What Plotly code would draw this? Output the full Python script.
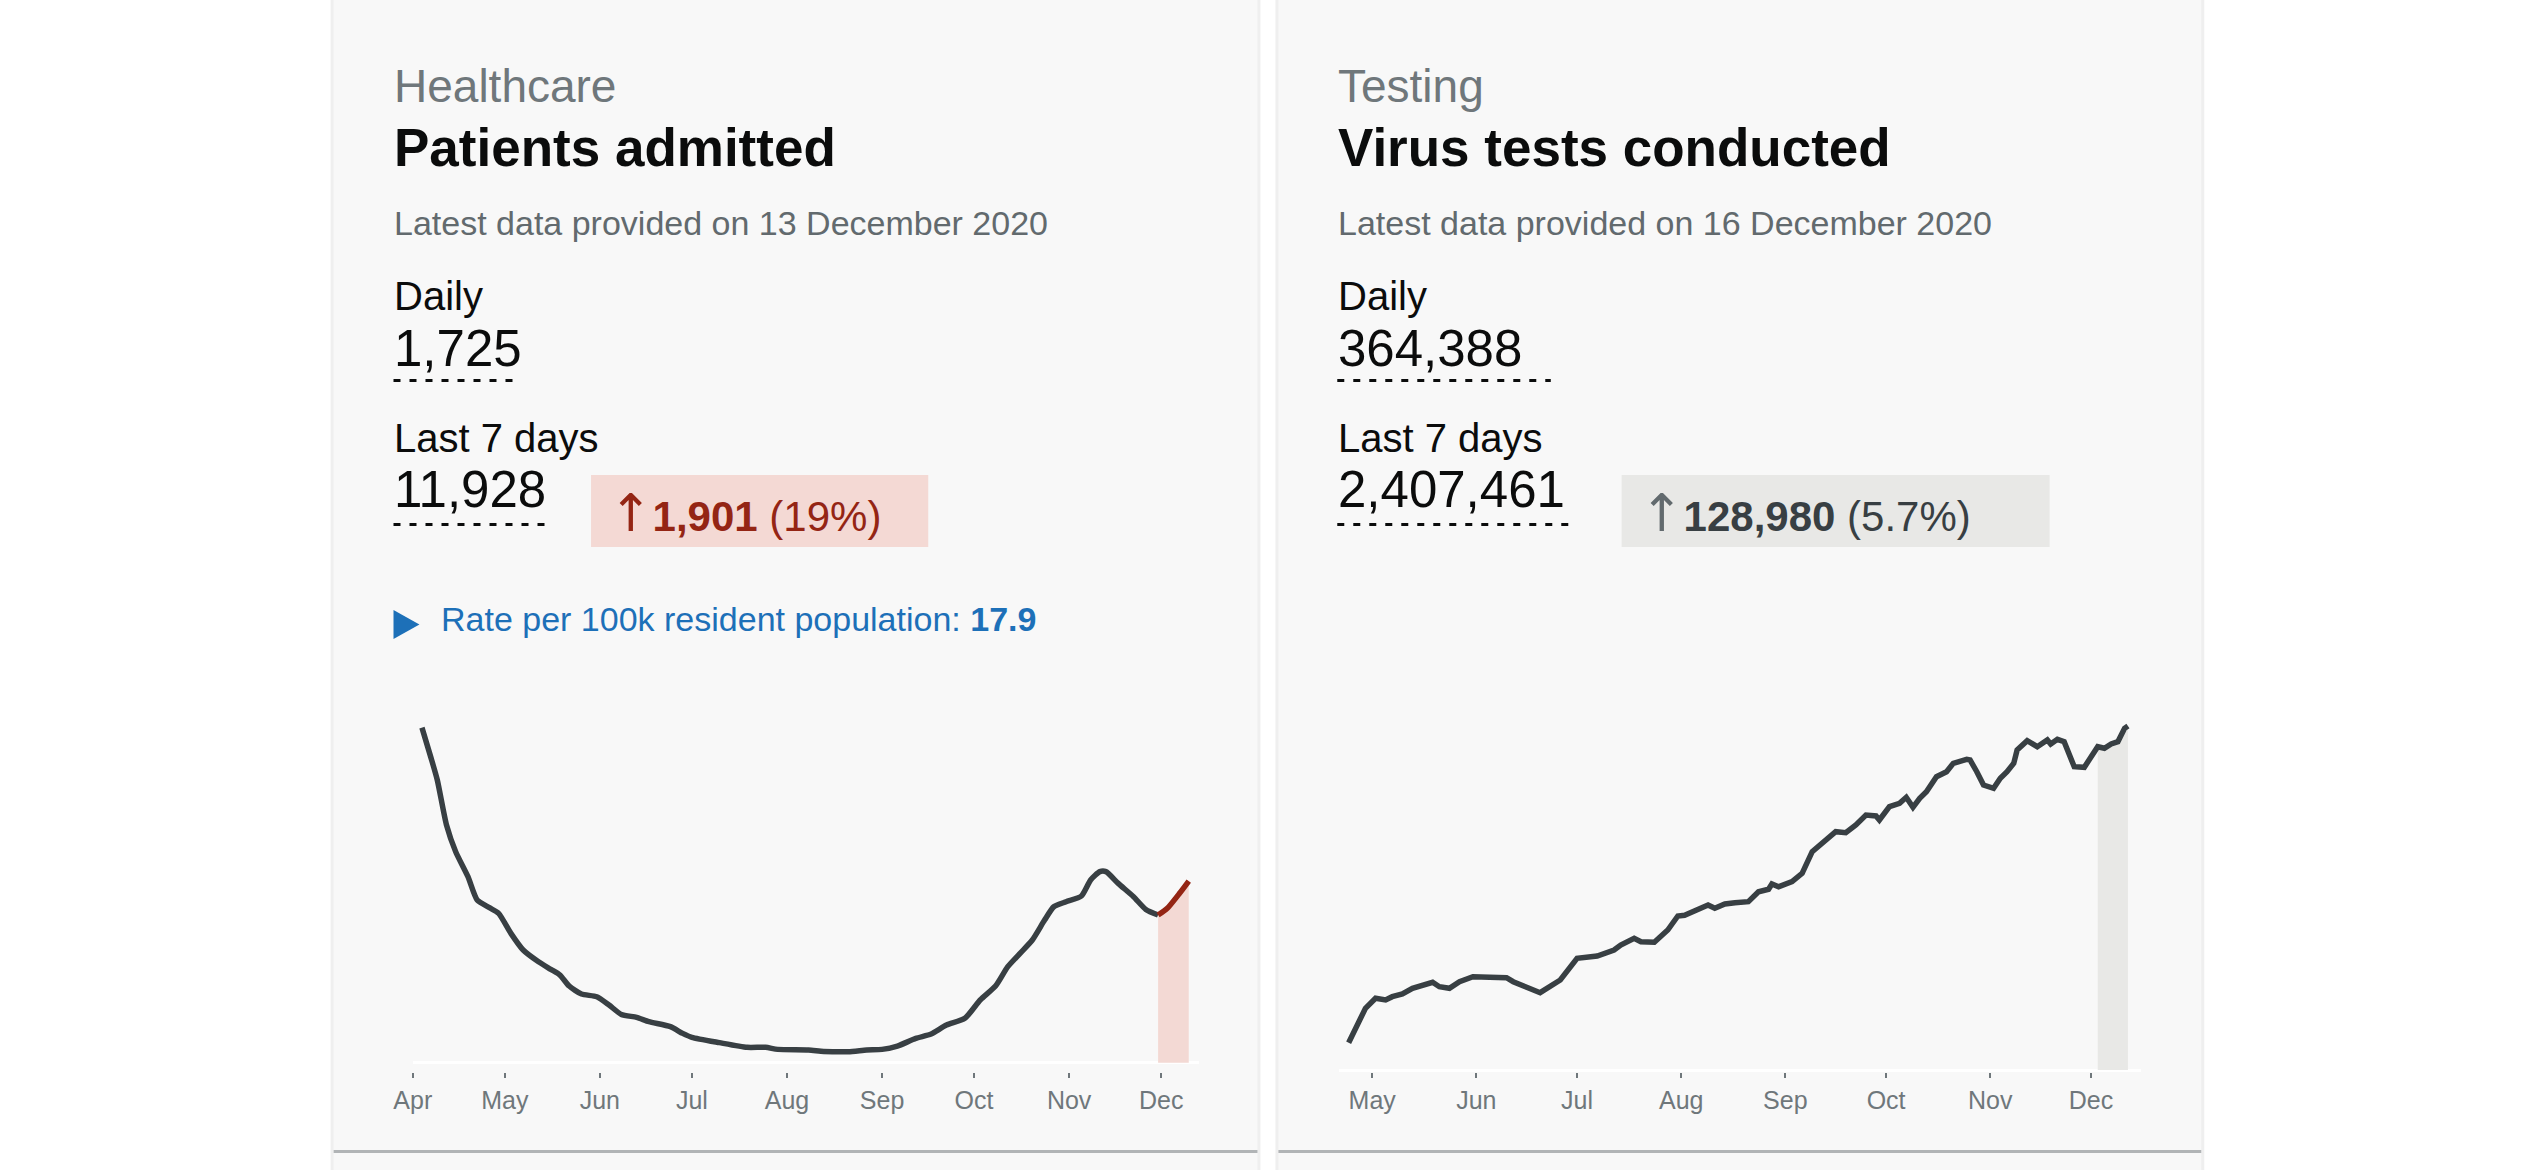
import plotly.graph_objects as go

# ---- data ----
# Healthcare: patients admitted (7-day average), Apr - Dec 2020
adm_dates = ['2020-04-04', '2020-04-07', '2020-04-09', '2020-04-12', '2020-04-15', '2020-04-19',
             '2020-04-22', '2020-04-26', '2020-04-29', '2020-05-03', '2020-05-07', '2020-05-12',
             '2020-05-16', '2020-05-19', '2020-05-22', '2020-05-26', '2020-05-31', '2020-06-04',
             '2020-06-08', '2020-06-13', '2020-06-17', '2020-06-24', '2020-06-28', '2020-07-01',
             '2020-07-10', '2020-07-19', '2020-07-25', '2020-07-29', '2020-08-08', '2020-08-13',
             '2020-08-21', '2020-08-27', '2020-09-01', '2020-09-06', '2020-09-12', '2020-09-17',
             '2020-09-22', '2020-09-28', '2020-10-03', '2020-10-08', '2020-10-12', '2020-10-16',
             '2020-10-20', '2020-10-24', '2020-10-27', '2020-10-31', '2020-11-05', '2020-11-08',
             '2020-11-11', '2020-11-13', '2020-11-17', '2020-11-22', '2020-11-26', '2020-11-30',
             '2020-12-03', '2020-12-07', '2020-12-10']
adm_values = [3143, 2855, 2652, 2230, 1979, 1745,
              1526, 1454, 1401, 1213, 1057, 947,
              876, 822, 719, 644, 619, 541,
              453, 425, 385, 338, 275, 238,
              188, 144, 144, 125, 119, 106,
              103, 119, 125, 156, 228, 269,
              353, 416, 588, 719, 901, 1026,
              1151, 1338, 1463, 1510, 1564, 1714,
              1792, 1792, 1682, 1557, 1438, 1385,
              1448, 1589, 1704]
adm_recent_start = '2020-11-30'

# Testing: virus tests conducted (7-day average), Apr - Dec 2020
test_dates = ['2020-04-24', '2020-04-27', '2020-04-29', '2020-05-02', '2020-05-05', '2020-05-07',
              '2020-05-10', '2020-05-13', '2020-05-16', '2020-05-19', '2020-05-21', '2020-05-24',
              '2020-05-27', '2020-05-31', '2020-06-10', '2020-06-12', '2020-06-16', '2020-06-20',
              '2020-06-26', '2020-07-01', '2020-07-07', '2020-07-12', '2020-07-14', '2020-07-18',
              '2020-07-20', '2020-07-24', '2020-07-28', '2020-07-31', '2020-08-02', '2020-08-06',
              '2020-08-09', '2020-08-11', '2020-08-14', '2020-08-17', '2020-08-21', '2020-08-24',
              '2020-08-27', '2020-08-28', '2020-08-30', '2020-09-03', '2020-09-06', '2020-09-09',
              '2020-09-13', '2020-09-16', '2020-09-19', '2020-09-22', '2020-09-25', '2020-09-28',
              '2020-09-29', '2020-10-02', '2020-10-05', '2020-10-07', '2020-10-09', '2020-10-11',
              '2020-10-13', '2020-10-16', '2020-10-19', '2020-10-21', '2020-10-25', '2020-10-26',
              '2020-10-28', '2020-10-30', '2020-11-02', '2020-11-04', '2020-11-06', '2020-11-08',
              '2020-11-09', '2020-11-12', '2020-11-15', '2020-11-18', '2020-11-19', '2020-11-21',
              '2020-11-23', '2020-11-26', '2020-11-29', '2020-12-03', '2020-12-05', '2020-12-07',
              '2020-12-09', '2020-12-11', '2020-12-12']
test_values = [27300, 46700, 61700, 71700, 70000, 73300,
               76000, 81700, 84000, 87700, 83300, 81700,
               88300, 93300, 92300, 88300, 82700, 77300,
               90000, 111700, 114000, 120000, 125000, 131700,
               128300, 127700, 140000, 154000, 154700, 160000,
               165000, 161700, 166000, 167300, 168300, 178300,
               180700, 186000, 183300, 188300, 196700, 218300,
               230000, 238300, 237300, 245000, 255000, 254000,
               250000, 263300, 266700, 272700, 262700, 271700,
               278300, 293300, 298300, 306700, 310700, 310000,
               298300, 285000, 281700, 291700, 298300, 306700,
               320000, 329300, 323300, 330000, 326000, 330700,
               328300, 303300, 302700, 323300, 321700, 326000,
               328300, 341700, 344000]
test_recent_start = '2020-12-03'

cards = [
    dict(category='Healthcare', title='Patients admitted', updated='13 December 2020',
         daily='1,725', week='11,928', change='1,901', pct='19%', up_colour='#942514',
         arrow_colour='#942514', box_colour='#f4d9d4', rate='17.9'),
    dict(category='Testing', title='Virus tests conducted', updated='16 December 2020',
         daily='364,388', week='2,407,461', change='128,980', pct='5.7%', up_colour='#383f43',
         arrow_colour='#626a6e', box_colour='#e8e8e6', rate=None),
]

# ---- page geometry (reference pixels) ----
W, H = 2532, 1170
XS, XO = 1.0052, -14.7      # horizontal calibration of the rendered page
FONT = 'Liberation Sans'
DARK = '#0b0c0c'
GREY = '#6f777b'
LINE = '#383f43'


def px(x):
    return (XS * x + XO) / W


def py(y):
    return 1 - y / H


fig = go.Figure()

# ---- chart 1: patients admitted ----
i0 = adm_dates.index(adm_recent_start)
fig.add_trace(go.Scatter(x=adm_dates[i0:], y=adm_values[i0:], mode='lines', fill='tozeroy',
                         fillcolor='#f3d9d4', line=dict(width=0), hoverinfo='skip',
                         xaxis='x', yaxis='y'))
fig.add_trace(go.Scatter(x=adm_dates[:i0 + 1], y=adm_values[:i0 + 1], mode='lines',
                         line=dict(color=LINE, width=5.5, shape='spline', smoothing=0.6),
                         xaxis='x', yaxis='y'))
fig.add_trace(go.Scatter(x=adm_dates[i0:], y=adm_values[i0:], mode='lines',
                         line=dict(color='#942514', width=5.5, shape='spline', smoothing=0.6),
                         xaxis='x', yaxis='y'))

# ---- chart 2: virus tests ----
j0 = test_dates.index(test_recent_start)
fig.add_trace(go.Scatter(x=test_dates[j0:], y=test_values[j0:], mode='lines', fill='tozeroy',
                         fillcolor='#e8e8e6', line=dict(width=0), hoverinfo='skip',
                         xaxis='x2', yaxis='y2'))
fig.add_trace(go.Scatter(x=test_dates, y=test_values, mode='lines',
                         line=dict(color=LINE, width=5.5),
                         xaxis='x2', yaxis='y2'))

xcommon = dict(type='date', showgrid=False, showline=False, zeroline=False,
               ticks='outside', ticklen=5, tickwidth=2, tickcolor=GREY,
               dtick='M1', tick0='2020-01-01', tickformat='%b', ticklabelstandoff=1,
               tickfont=dict(family=FONT, size=25, color=GREY), fixedrange=True)
ycommon = dict(showgrid=False, showline=False, showticklabels=False, ticks='',
               zeroline=True, zerolinecolor='white', zerolinewidth=3, fixedrange=True)

# left chart: zero at y=1062.7px, 0.1066 px per patient
s1 = 0.1066
# right chart: zero at y=1070px, 0.001 px per test
s2 = 0.001

shapes = []
# panels
for left, right in [(330, 1256), (1277, 2202)]:
    shapes.append(dict(type='rect', xref='paper', yref='paper', layer='below',
                       x0=px(left - 3), x1=px(right + 3), y0=py(-10), y1=py(1180),
                       fillcolor='#efefef', line=dict(width=0)))
    shapes.append(dict(type='rect', xref='paper', yref='paper', layer='below',
                       x0=px(left), x1=px(right), y0=py(-10), y1=py(1180),
                       fillcolor='#f8f8f8', line=dict(width=0)))
    shapes.append(dict(type='rect', xref='paper', yref='paper', layer='below',
                       x0=px(left), x1=px(right), y0=py(1150), y1=py(1153),
                       fillcolor='#b1b4b6', line=dict(width=0)))

annotations = []


def text(x, y, s, size, color=DARK, family=FONT):
    annotations.append(dict(x=px(x), y=py(y), xref='paper', yref='paper', text=s,
                            showarrow=False, xanchor='left', yanchor='middle',
                            font=dict(family=family, size=size, color=color)))


col_x = [389, 1335]
box_x = [(588, 926), (1621, 2050)]
daily_dash = [517, 1550]
week_dash = [543, 1576]
for k, c in enumerate(cards):
    x = col_x[k]
    text(x, 86.4, c['category'], 46, GREY)
    text(x, 147.2, '<b>' + c['title'] + '</b>', 53, DARK)
    text(x, 223.1, 'Latest data provided on ' + c['updated'], 34, '#626a6e')
    text(x, 296, 'Daily', 40)
    text(x, 348.2, c['daily'], 51)
    text(x, 438, 'Last 7 days', 40)
    text(x, 489.2, c['week'], 51)
    for xe, ye in [(daily_dash[k], 380.5), (week_dash[k], 524.5)]:
        shapes.append(dict(type='line', xref='paper', yref='paper', x0=px(x + 1), x1=px(xe),
                           y0=py(ye), y1=py(ye), line=dict(color=DARK, width=3, dash='7px,9px')))
    bx0, bx1 = box_x[k]
    shapes.append(dict(type='rect', xref='paper', yref='paper', x0=px(bx0), x1=px(bx1),
                       y0=py(475), y1=py(547), fillcolor=c['box_colour'], line=dict(width=0)))
    text(bx0 + 16, 513,
         '<span style="font-family:DejaVu Sans;font-size:52px;color:' + c['arrow_colour'] + '">↑</span><b>'
         + c['change'] + '</b> (' + c['pct'] + ')',
         42, c['up_colour'])
    if c['rate']:
        shapes.append(dict(type='path', xref='paper', yref='paper',
                           path='M {} {} L {} {} L {} {} Z'.format(px(390), py(610), px(416), py(624.5),
                                                                    px(390), py(639)),
                           fillcolor='#1d70b8', line=dict(width=0)))
        text(436, 618.8, 'Rate per 100k resident population: <b>' + c['rate'] + '</b>', 34, '#1d70b8')

fig.update_layout(
    width=W, height=H,
    margin=dict(l=0, r=0, t=0, b=0),
    paper_bgcolor='white', plot_bgcolor='rgba(0,0,0,0)',
    showlegend=False,
    xaxis=dict(xcommon, domain=[px(409.3), px(1197)], range=['2020-04-01', '2020-12-13 05:00'],
               anchor='y'),
    yaxis=dict(ycommon, domain=[py(1072), py(700)],
               range=[-(1072 - 1062.7) / s1, (1062.7 - 700) / s1], anchor='x'),
    xaxis2=dict(xcommon, domain=[px(1337.8), px(2142)], range=['2020-04-21 03:36', '2020-12-16'],
                anchor='y2'),
    yaxis2=dict(ycommon, domain=[py(1072), py(700)],
                range=[-(1072 - 1070) / s2, (1070 - 700) / s2], anchor='x2'),
    shapes=shapes,
    annotations=annotations,
)

# the page body has a default 8px margin; drop it so the figure fills the window
fig.write_html("out.html", config={'displayModeBar': False},
               post_script="document.body.style.margin='0';document.body.style.overflow='hidden';")
